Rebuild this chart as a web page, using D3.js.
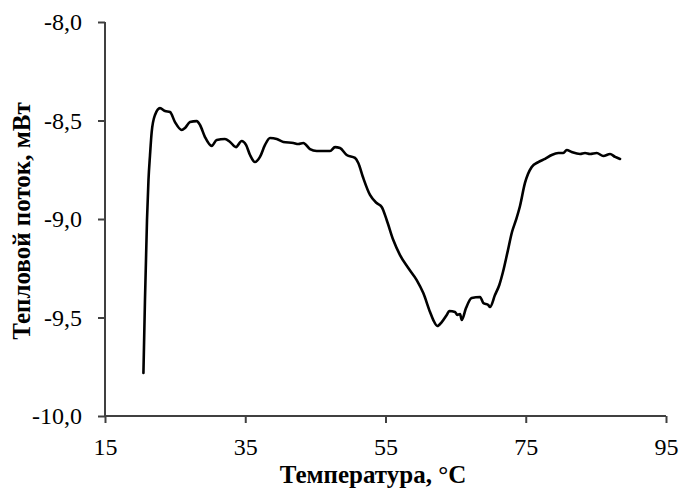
<!DOCTYPE html>
<html>
<head>
<meta charset="utf-8">
<script src="https://cdn.jsdelivr.net/npm/d3@7"></script>
<style>
  body { margin: 0; background: #fff; }
  text { font-family: "Liberation Serif", "Times New Roman", serif; }
</style>
</head>
<body>
<svg id="chart" width="680" height="489"></svg>
<script>
// temperature, °C
const temps = [20.48, 20.70, 20.99, 21.20, 21.42, 21.66, 22.13, 22.84, 23.56, 24.27,
  24.98, 25.94, 26.41, 27.12, 28.08, 28.55, 29.26, 30.22, 30.93, 32.11,
  32.83, 33.68, 34.49, 35.11, 35.68, 36.39, 37.10, 37.82, 38.53, 39.49,
  40.43, 41.86, 42.57, 43.28, 44.23, 45.19, 47.09, 47.80, 48.51, 49.47,
  50.65, 51.12, 51.83, 52.79, 53.74, 54.46, 55.17, 56.11, 57.07, 58.25,
  59.45, 60.39, 61.35, 61.82, 62.39, 63.02, 63.73, 64.10, 64.91, 65.24,
  65.63, 65.87, 66.48, 67.29, 68.48, 68.95, 69.66, 69.90, 70.61, 71.23,
  71.75, 72.40, 73.04, 73.61, 74.18, 74.89, 75.32, 75.85, 76.79, 77.75,
  78.70, 79.65, 80.36, 80.84, 81.55, 82.74, 83.45, 84.17, 85.12, 86.07,
  87.02, 87.75, 88.45];

// heat flow, mW
const heatFlow = [-9.782, -9.411, -9.005, -8.802, -8.675, -8.558, -8.472, -8.437, -8.452, -8.457,
  -8.508, -8.548, -8.538, -8.508, -8.503, -8.523, -8.584, -8.629, -8.599, -8.594,
  -8.609, -8.635, -8.604, -8.624, -8.675, -8.711, -8.685, -8.624, -8.589, -8.594,
  -8.609, -8.614, -8.619, -8.614, -8.645, -8.655, -8.655, -8.635, -8.640, -8.675,
  -8.690, -8.716, -8.792, -8.878, -8.919, -8.939, -9.005, -9.107, -9.183, -9.249,
  -9.310, -9.376, -9.472, -9.513, -9.543, -9.523, -9.487, -9.467, -9.472, -9.487,
  -9.482, -9.513, -9.452, -9.401, -9.396, -9.426, -9.437, -9.447, -9.386, -9.335,
  -9.269, -9.168, -9.066, -9.005, -8.934, -8.817, -8.772, -8.736, -8.711, -8.695,
  -8.675, -8.665, -8.665, -8.650, -8.660, -8.670, -8.665, -8.670, -8.665, -8.680,
  -8.670, -8.685, -8.695];

const xTicks = [15, 35, 55, 75, 95];
const yTicks = [-10, -9.5, -9, -8.5, -8];

const svg = d3.select("svg#chart");
const margins = { top: 22, right: 14, bottom: 73, left: 105 };
const width = +svg.attr("width");
const height = +svg.attr("height");

const xScale = d3.scaleLinear().domain([15, 95]).range([margins.left, width - margins.right]);
const yScale = d3.scaleLinear().domain([-10, -8]).range([height - margins.bottom, margins.top]);

const fmt = v => d3.format(".1f")(v).replace(".", ",").replace("−", "-");

// axes
const xAxis = d3.axisBottom(xScale).tickValues(xTicks).tickSize(7).tickPadding(15)
  .tickFormat(d => String(d));
const yAxis = d3.axisLeft(yScale).tickValues(yTicks).tickSize(7).tickPadding(16)
  .tickFormat(fmt);

const gx = svg.append("g")
  .attr("transform", "translate(0," + yScale(-10) + ")")
  .call(xAxis);
const gy = svg.append("g")
  .attr("transform", "translate(" + xScale(15) + ",0)")
  .call(yAxis);

[gx, gy].forEach(g => {
  g.select(".domain").attr("stroke", "#404040").attr("stroke-width", 2);
  g.selectAll(".tick line").attr("stroke", "#404040").attr("stroke-width", 2);
  g.selectAll(".tick text")
    .attr("fill", "#000")
    .style("font-family", "'Liberation Serif', serif")
    .style("font-size", "24px");
});
// keep the domain flush with the axis (no outer tick stub)
gy.select(".domain").attr("d", "M0," + yScale(-8) + "V" + yScale(-10));
gx.select(".domain").attr("d", "M" + xScale(15) + ",0H" + xScale(95));

// data line
const pts = temps.map((t, i) => [t, heatFlow[i]]);
const line = d3.line()
  .x(d => xScale(d[0]))
  .y(d => yScale(d[1]))
  .curve(d3.curveMonotoneX);

svg.append("path")
  .datum(pts)
  .attr("d", line)
  .attr("fill", "none")
  .attr("stroke", "#000")
  .attr("stroke-width", 2.6)
  .attr("stroke-linejoin", "round")
  .attr("stroke-linecap", "round");

// axis titles
svg.append("text")
  .text("Температура, °C")
  .attr("x", 373)
  .attr("y", 483)
  .attr("text-anchor", "middle")
  .style("font-weight", "bold")
  .style("font-size", "25px");

svg.append("text")
  .text("Тепловой поток, мВт")
  .attr("transform", "translate(30,221) rotate(-90)")
  .attr("text-anchor", "middle")
  .style("font-weight", "bold")
  .style("font-size", "25px");
</script>
</body>
</html>
